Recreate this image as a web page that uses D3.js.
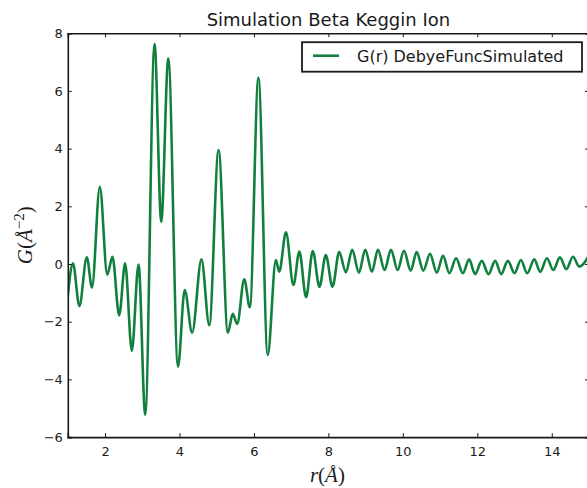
<!DOCTYPE html>
<html>
<head>
<meta charset="utf-8">
<script src="https://d3js.org/d3.v7.min.js"></script>
<style>
  body { margin: 0; background: #fff; }
  svg { display: block; }
  text { font-family: "DejaVu Sans", sans-serif; fill: #1a1a1a; }
  .axis path, .axis line { stroke: #1a1a1a; }
  .math { font-family: "Liberation Serif", "DejaVu Serif", serif; }
</style>
</head>
<body>
<svg id="chart"></svg>
<script>
// Chart data (local extrema of the simulated G(r))
var chartTitle = "Simulation Beta Keggin Ion";
var seriesName = "G(r) DebyeFuncSimulated";

var rValues = [
  1.00, 1.14, 1.31, 1.51, 1.65, 1.86, 2.06, 2.20, 2.38, 2.54,
  2.72, 2.90, 3.08, 3.33, 3.51, 3.70, 3.96, 4.14, 4.34, 4.59,
  4.80, 5.05, 5.30, 5.43, 5.55, 5.74, 5.89, 6.12, 6.37, 6.59,
  6.68, 6.86, 7.06, 7.22, 7.40, 7.58, 7.76, 7.93, 8.11, 8.29,
  8.47, 8.64, 8.82, 8.99, 9.17, 9.33, 9.51, 9.68, 9.86, 10.03,
  10.21, 10.37, 10.55, 10.73, 10.91, 11.08, 11.25, 11.43, 11.61, 11.78,
  11.94, 12.12, 12.30, 12.48, 12.64, 12.82, 13.00, 13.17, 13.34, 13.53,
  13.69, 13.87, 14.04, 14.22, 14.39, 14.57, 14.74, 15.00
];
var gValues = [
  -1.10, 0.02, -1.46, 0.23, -0.81, 2.68, -0.37, 0.25, -1.78, 0.02,
  -3.01, -0.02, -5.22, 7.62, 1.47, 7.13, -3.56, -0.90, -2.38, 0.16,
  -2.12, 3.95, -2.38, -1.73, -2.08, -0.53, -1.50, 6.46, -3.15, 0.14,
  -0.27, 1.10, -0.73, 0.43, -1.15, 0.45, -0.79, 0.31, -0.79, 0.41,
  -0.29, 0.49, -0.30, 0.49, -0.27, 0.49, -0.21, 0.49, -0.21, 0.46,
  -0.23, 0.41, -0.23, 0.35, -0.30, 0.28, -0.32, 0.20, -0.32, 0.16,
  -0.35, 0.11, -0.35, 0.11, -0.35, 0.11, -0.32, 0.14, -0.32, 0.16,
  -0.27, 0.20, -0.21, 0.23, -0.18, 0.25, -0.09, 0.30
];

var xDomain = [1, 15];
var yDomain = [-6, 8];
var xTickValues = [2, 4, 6, 8, 10, 12, 14];
var yTickValues = [-6, -4, -2, 0, 2, 4, 6, 8];

var data = rValues.map(function (r, i) {
  return { x: r, y: gValues[i] };
});

// Setup chart dimensions and margins
var margin = { top: 33.2, right: -2, bottom: 50.9, left: 67.8 };
var width = 587 - margin.left - margin.right;
var height = 488 - margin.top - margin.bottom;

var x = d3.scaleLinear()
    .domain(xDomain)
    .range([0, width]);
var y = d3.scaleLinear()
    .domain(yDomain)
    .range([height, 0]);

var svg = d3.select('#chart')
    .attr('width', 587)
    .attr('height', 488)
  .append('g')
    .attr('transform', 'translate(' + margin.left + ',' + margin.top + ')');

svg.append('defs').append('clipPath')
    .attr('id', 'plot-clip')
  .append('rect')
    .attr('width', width)
    .attr('height', height);

// Line
var line = d3.line()
    .x(function (d) { return x(d.x); })
    .y(function (d) { return y(d.y); })
    .curve(d3.curveMonotoneX);

svg.append('path')
    .datum(data)
    .attr('clip-path', 'url(#plot-clip)')
    .attr('fill', 'none')
    .attr('stroke', '#11803f')
    .attr('stroke-width', 2.6)
    .attr('stroke-linejoin', 'round')
    .attr('d', line);

// Axes, ticks pointing inward on all four sides
var xAxis = d3.axisBottom(x).tickValues(xTickValues).tickSize(-4).tickPadding(10);
var yAxis = d3.axisLeft(y).tickValues(yTickValues).tickSize(-4).tickPadding(5);
var xTop = d3.axisTop(x).tickValues(xTickValues).tickSize(-4).tickFormat('');
var yRight = d3.axisRight(y).tickValues(yTickValues).tickSize(-4).tickFormat('');

svg.append('g')
    .attr('class', 'axis')
    .attr('transform', 'translate(0,' + height + ')')
    .call(xAxis);
svg.append('g')
    .attr('class', 'axis')
    .call(yAxis);
svg.append('g')
    .attr('class', 'axis')
    .call(xTop);
svg.append('g')
    .attr('class', 'axis')
    .attr('transform', 'translate(' + width + ',0)')
    .call(yRight);

svg.selectAll('.axis path').attr('stroke-width', 1.6);
svg.selectAll('.axis line').attr('stroke-width', 1);
svg.selectAll('.axis text')
    .style('font-size', '13px')
    .style('font-family', '"DejaVu Sans", sans-serif')
    .attr('fill', '#1a1a1a');

// Title
svg.append('text')
    .attr('x', width / 2)
    .attr('y', -7)
    .attr('text-anchor', 'middle')
    .style('font-size', '18px')
    .text(chartTitle);

// x label: r(Å)
var xl = svg.append('text')
    .attr('class', 'math')
    .attr('x', width / 2 - 1)
    .attr('y', height + 45)
    .attr('text-anchor', 'middle')
    .style('font-size', '21px');
xl.append('tspan').style('font-style', 'italic').text('r');
xl.append('tspan').text('(');
xl.append('tspan').style('font-style', 'italic').text('Å');
xl.append('tspan').text(')');

// y label: G(Å^-2)
var yl = svg.append('text')
    .attr('class', 'math')
    .attr('transform', 'translate(' + (-36) + ',' + (height / 2) + ') rotate(-90)')
    .attr('text-anchor', 'middle')
    .style('font-size', '21px');
yl.append('tspan').style('font-style', 'italic').text('G');
yl.append('tspan').text('(');
yl.append('tspan').style('font-style', 'italic').text('Å');
yl.append('tspan').attr('dy', -8).style('font-size', '15px').text('−2');
yl.append('tspan').attr('dy', 8).text(')');

// Legend
var legend = svg.append('g')
    .attr('transform', 'translate(' + (width - 287) + ',9)');
legend.append('rect')
    .attr('width', 280)
    .attr('height', 29.5)
    .attr('fill', '#fff')
    .attr('stroke', '#1a1a1a')
    .attr('stroke-width', 1.8);
legend.append('line')
    .attr('x1', 11)
    .attr('x2', 37)
    .attr('y1', 13.5)
    .attr('y2', 13.5)
    .attr('stroke', '#11803f')
    .attr('stroke-width', 2.6);
legend.append('text')
    .attr('x', 55)
    .attr('y', 20)
    .style('font-size', '16px')
    .text(seriesName);
</script>
</body>
</html>
